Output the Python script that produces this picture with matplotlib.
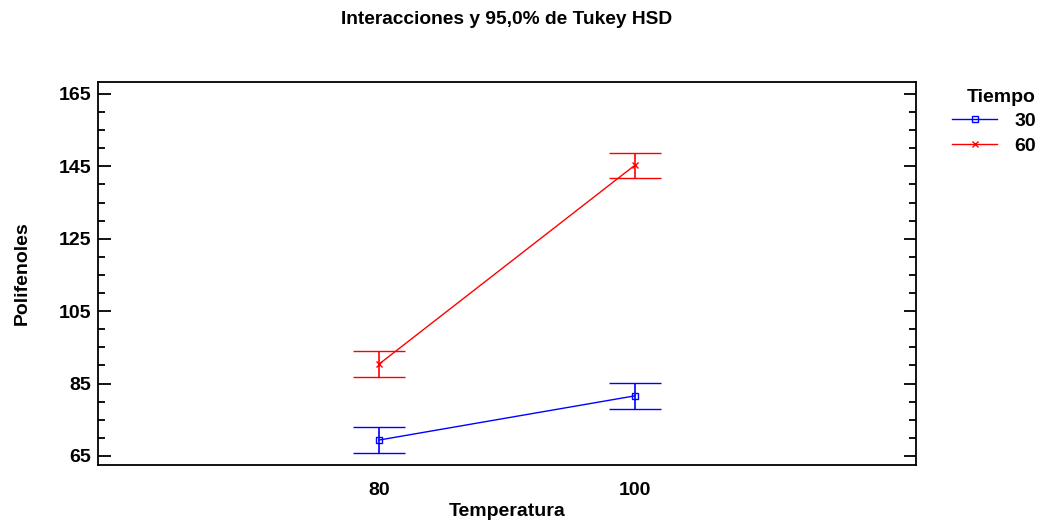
import matplotlib.pyplot as plt
from matplotlib.lines import Line2D
from matplotlib.ticker import MultipleLocator

plt.rcParams['font.family'] = ['Liberation Sans', 'DejaVu Sans']
plt.rcParams['font.weight'] = 'bold'

temperatura = [80, 100]
medias_30 = [69.4, 81.6]
medias_60 = [90.4, 145.3]
intervalo = 3.5  # half width of Tukey HSD interval

fig = plt.figure(figsize=(10.43, 5.26), dpi=100)
ax = fig.add_axes([98 / 1043, 1 - 465 / 526, 818 / 1043, 383 / 526])

series = [
    ("30", medias_30, "blue", "s"),
    ("60", medias_60, "red", "x"),
]
handles = []
for nombre, medias, color, marca in series:
    ax.errorbar(temperatura, medias, yerr=intervalo, color=color, lw=1,
                elinewidth=1.2, capsize=19, capthick=1.2,
                marker=marca, ms=4.5, mfc="none", mec=color, mew=1)
    handles.append(Line2D([], [], color=color, lw=1, marker=marca, ms=4.5,
                          mfc="none", mec=color, mew=1, label=nombre))

ax.set_xlim(58, 122)
ax.set_ylim(62.5, 168.3)
ax.set_xticks(temperatura)
ax.set_yticks(range(65, 166, 20))
ax.yaxis.set_minor_locator(MultipleLocator(5))
ax.tick_params(axis="x", length=0, pad=12, labelsize=14)
ax.tick_params(axis="y", which="major", direction="in", length=9, width=1.3,
               right=True, labelsize=14, pad=5)
ax.tick_params(axis="y", which="minor", direction="in", length=5, width=1.3,
               right=True)
for sp in ax.spines.values():
    sp.set_linewidth(1.3)

ax.set_xlabel("Temperatura", fontsize=14, fontweight="bold", labelpad=3)
ax.set_ylabel("Polifenoles", fontsize=14, fontweight="bold", labelpad=20)
fig.text(0.486, 0.962, "Interacciones y 95,0% de Tukey HSD", ha="center",
         va="center", fontsize=13.8, fontweight="bold")

leg = fig.legend(handles=handles, loc="upper right",
                 bbox_to_anchor=(1040 / 1043, 1 - 85 / 526), frameon=False,
                 title="Tiempo", fontsize=14, handlelength=2.3,
                 handletextpad=0.9, labelspacing=0.35, borderaxespad=0,
                 borderpad=0.2,
                 title_fontproperties={"weight": "bold", "size": 14})
leg._legend_box.align = "right"

fig.savefig("out.png", dpi=100)
